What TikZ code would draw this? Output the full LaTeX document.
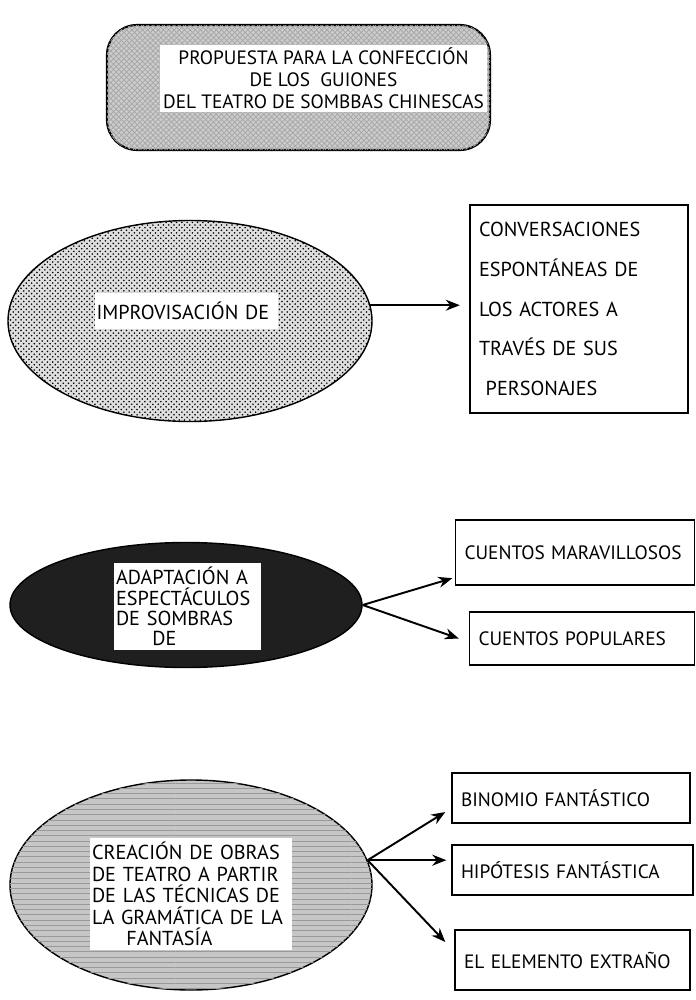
\documentclass[tikz,border=0pt]{standalone}
\usepackage{fontspec}
\setmainfont{PT Sans}
\usetikzlibrary{shapes.geometric,patterns,arrows.meta}

\begin{document}
\begin{tikzpicture}[
    every node/.style={inner sep=2pt,font=\fontsize{11.5}{12.5}\selectfont},
    oval/.style={draw=black,thick,ellipse},
    label box/.style={fill=white,align=left,inner sep=1pt},
    leaf/.style={draw=black,thick,rectangle,align=left,inner xsep=0.18cm,inner ysep=3pt,
                 font=\fontsize{11}{12.5}\selectfont},
    link/.style={-{Stealth[length=2.8mm,width=2.2mm]},line width=1.1pt}]
        \useasboundingbox (0,0) rectangle (13.9,-20);

        % titulo
        \node[draw=black,line width=1.2pt,rounded corners=0.6cm,fill=gray!40,
              postaction={pattern=crosshatch,pattern color=gray!70},
              minimum width=7.66cm,minimum height=2.5cm] (titulo) at (5.97,-1.75) {};
        \node[label box,align=center,minimum width=6.54cm,minimum height=1.34cm,
              font=\fontsize{11}{12.5}\selectfont] (titulotxt) at (6.47,-1.57)
              {PROPUESTA PARA LA CONFECCIÓN\\DE LOS\ \ GUIONES\\DEL TEATRO DE SOMBBAS CHINESCAS};

        % improvisacion
        \node[oval,fill=gray!25,postaction={pattern=crosshatch dots},
              minimum width=7.28cm,minimum height=4.02cm] (e1) at (3.8,-6.42) {};
        \node[label box,text width=3.6cm,minimum height=0.72cm] (t1) at (3.73,-6.22) {IMPROVISACIÓN DE};
        \node[leaf,line width=1.4pt,text width=4.0cm,minimum height=4.16cm,
              font=\fontsize{11.5}{22.5}\selectfont] (b1) at (11.58,-6.18)
              {CONVERSACIONES\\ESPONTÁNEAS DE\\LOS ACTORES A\\TRAVÉS DE SUS\\\ PERSONAJES};

        % adaptacion
        \node[oval,fill=black!88,minimum width=7.04cm,minimum height=2.5cm] (e2) at (3.72,-12.1) {};
        \node[label box,text width=2.86cm,minimum height=1.74cm,
              font=\fontsize{11.5}{11.6}\selectfont] (t2) at (3.75,-12.13)
              {ADAPTACIÓN A\\ESPECTÁCULOS\\DE SOMBRAS\\\hspace{1.8em}DE};
        \node[leaf,text width=4.42cm,minimum height=1.3cm] (b2a) at (11.5,-11.05) {\mbox{CUENTOS MARAVILLOSOS}};
        \node[leaf,text width=4.14cm,minimum height=1.06cm] (b2b) at (11.64,-12.77) {\mbox{CUENTOS POPULARES}};

        % creacion
        \node[oval,fill=gray!45,postaction={pattern=horizontal lines,pattern color=gray!80},
              minimum width=7.24cm,minimum height=4.2cm] (e3) at (3.82,-17.7) {};
        \node[label box,text width=3.96cm,minimum height=2.24cm,
              font=\fontsize{11.5}{12.2}\selectfont] (t3) at (3.82,-17.88)
              {CREACIÓN DE OBRAS\\DE TEATRO A PARTIR\\DE LAS TÉCNICAS DE\\LA GRAMÁTICA DE LA\\\hspace{1.7em}FANTASÍA};
        \node[leaf,text width=4.4cm,minimum height=1.0cm] (b3a) at (11.42,-15.96) {\mbox{BINOMIO FANTÁSTICO}};
        \node[leaf,text width=4.46cm,minimum height=1.0cm] (b3b) at (11.45,-17.4) {\mbox{HIPÓTESIS FANTÁSTICA}};
        \node[leaf,text width=4.34cm,minimum height=1.2cm] (b3c) at (11.45,-19.2) {\mbox{EL ELEMENTO EXTRAÑO}};

        \path [link] (e1.5) edge ([xshift=-0.18cm]e1.5 -| b1.west);
        \path [link] (e2.east) edge ([xshift=-0.05cm,yshift=0.15cm]b2a.south west);
        \path [link] (e2.east) edge ([xshift=-0.2cm]b2b.west);
        \path [link] (e3.8) edge ([xshift=-0.12cm,yshift=-0.28cm]b3a.west);
        \path [link] (e3.8) edge ([xshift=-0.1cm]e3.8 -| b3b.west);
        \path [link] (e3.8) edge ([xshift=-0.18cm,yshift=0.36cm]b3c.west);
    \end{tikzpicture}
\end{document}
